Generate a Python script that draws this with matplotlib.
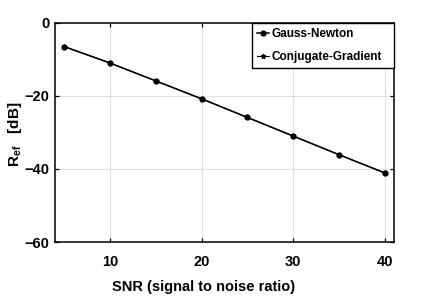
import matplotlib
matplotlib.use("Agg")
import matplotlib.pyplot as plt

SNR = [5, 10, 15, 20, 25, 30, 35, 40]
GAUSS_NEWTON = [-6.5, -11.0, -15.9, -20.8, -25.9, -31.0, -36.1, -41.1]
CONJ_GRADIENT = [-6.5, -11.0, -15.9, -20.8, -25.9, -31.0, -36.1, -41.1]
X_TICKS = [10, 20, 30, 40]
Y_TICKS = [-60, -40, -20, 0]

plt.rcParams.update(
    {
        "font.family": ["Liberation Sans", "DejaVu Sans"],
        "font.weight": "bold",
        "mathtext.fontset": "custom",
        "mathtext.rm": "Liberation Sans:bold",
        "mathtext.it": "Liberation Sans:bold",
        "mathtext.bf": "Liberation Sans:bold",
    }
)

fig = plt.figure(figsize=(4.36, 3.0), dpi=100)
ax = fig.add_axes([0.126, 0.193, 0.778, 0.731])

ax.plot(SNR, GAUSS_NEWTON, color="black", marker="o", markersize=3.5,
        linewidth=1.1, label="Gauss-Newton")
ax.plot(SNR, CONJ_GRADIENT, color="black", marker="*", markersize=3.5,
        linewidth=0.8, label="Conjugate-Gradient")

ax.set_xlim(4, 41)
ax.set_ylim(-60, 0)
ax.set_xticks(X_TICKS)
ax.set_yticks(Y_TICKS)
ax.tick_params(direction="in", top=True, right=True, labelsize=10.5,
               length=3, width=0.9)
ax.tick_params(axis="x", pad=9)
ax.tick_params(axis="y", pad=4)
for lbl in ax.get_xticklabels() + ax.get_yticklabels():
    lbl.set_fontweight("bold")
ax.grid(True, color="#e0e0e0", linewidth=0.8)
ax.set_axisbelow(True)
for sp in ax.spines.values():
    sp.set_linewidth(1.1)

ax.set_xlabel("SNR (signal to noise ratio)", fontsize=10.5, fontweight="bold")
ax.xaxis.set_label_coords(0.437, -0.175)
ax.set_ylabel(r"R$_{\mathrm{ef}}$   [dB]", fontsize=11, fontweight="bold")
ax.yaxis.set_label_coords(-0.09, 0.49)

leg = ax.legend(loc="upper right", bbox_to_anchor=(0.581, 0.0, 0.419, 1.0),
                mode="expand", borderaxespad=0, fancybox=False,
                framealpha=1, edgecolor="black", fontsize=8.5,
                handlelength=1.0, handletextpad=0.2, borderpad=0.45,
                labelspacing=0.9)
leg.get_frame().set_linewidth(1.0)
for t in leg.get_texts():
    t.set_fontweight("bold")

fig.savefig("out.png", dpi=100)
